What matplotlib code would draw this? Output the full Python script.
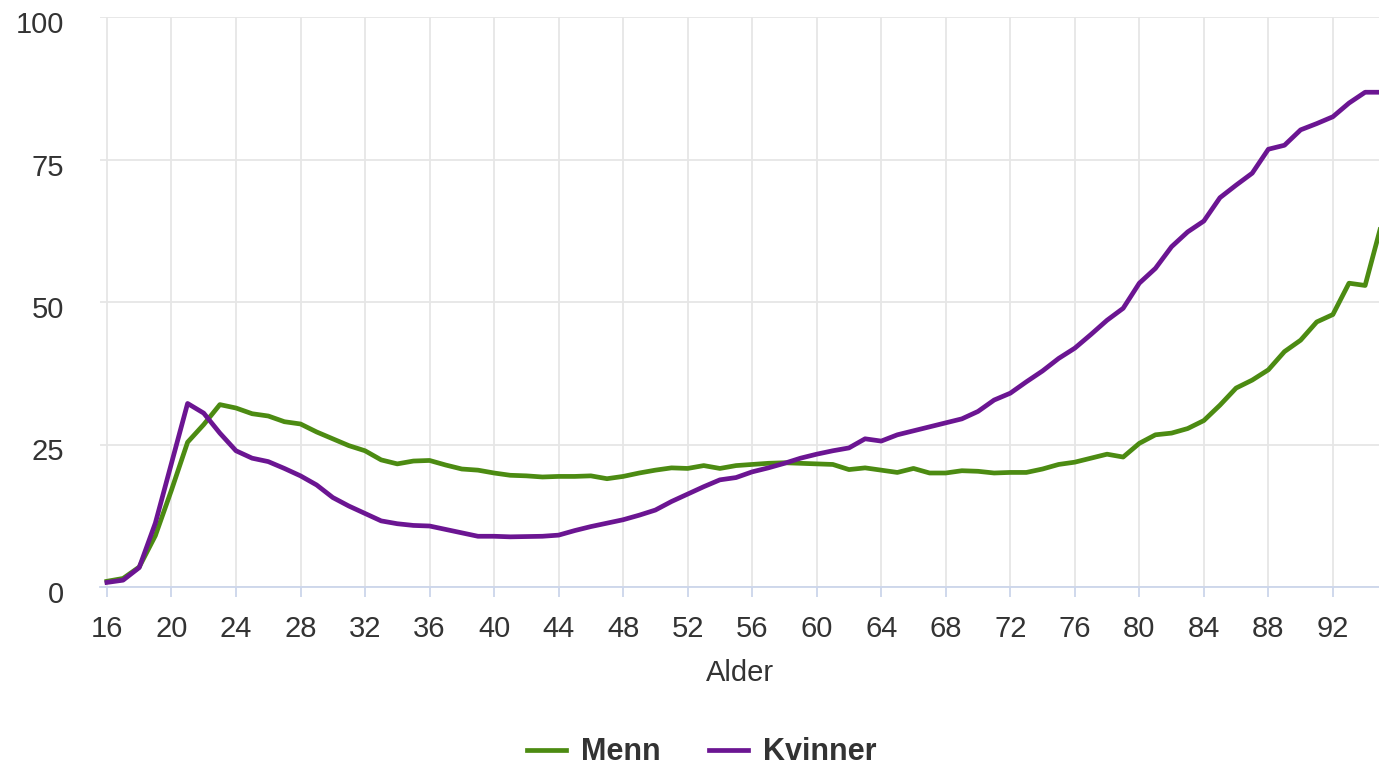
import matplotlib.pyplot as plt
import matplotlib.transforms as mtransforms
import numpy as np

# alder 16..95
alder = list(range(16, 96))

menn = [1.0, 1.5, 3.5, 9.0, 17.0, 25.4, 28.5, 32.0, 31.4, 30.4,
        30.0, 29.0, 28.6, 27.2, 26.0, 24.8, 23.9, 22.3, 21.6, 22.1,
        22.2, 21.4, 20.7, 20.5, 20.0, 19.6, 19.5, 19.3, 19.4, 19.4,
        19.5, 19.0, 19.4, 20.0, 20.5, 20.9, 20.8, 21.3, 20.8, 21.3,
        21.5, 21.7, 21.8, 21.7, 21.6, 21.5, 20.6, 20.9, 20.5, 20.1,
        20.8, 20.0, 20.0, 20.4, 20.3, 20.0, 20.1, 20.1, 20.7, 21.5,
        21.9, 22.6, 23.3, 22.8, 25.2, 26.7, 27.0, 27.8, 29.2, 31.9,
        34.9, 36.3, 38.1, 41.3, 43.3, 46.5, 47.8, 53.3, 52.9, 63.5]

kvinner = [0.8, 1.2, 3.4, 11.2, 21.7, 32.2, 30.5, 27.0, 23.9, 22.6,
           22.0, 20.8, 19.5, 17.9, 15.7, 14.2, 12.9, 11.6, 11.1, 10.8,
           10.7, 10.1, 9.5, 8.9, 8.9, 8.8, 8.85, 8.9, 9.1, 9.9,
           10.6, 11.2, 11.8, 12.6, 13.5, 15.0, 16.3, 17.6, 18.8, 19.2,
           20.2, 20.9, 21.7, 22.6, 23.3, 23.9, 24.4, 26.0, 25.6, 26.7,
           27.4, 28.1, 28.8, 29.5, 30.8, 32.8, 34.0, 36.0, 37.9, 40.1,
           41.9, 44.3, 46.8, 48.9, 53.3, 55.9, 59.7, 62.3, 64.2, 68.3,
           70.5, 72.6, 76.8, 77.5, 80.2, 81.3, 82.5, 84.9, 86.8, 86.8]

x_ticks = list(range(16, 93, 4))
y_ticks = [0, 25, 50, 75, 100]

plt.rcParams['font.family'] = ['Liberation Sans', 'DejaVu Sans']

fig = plt.figure(figsize=(13.79, 7.66), dpi=100)
ax = fig.add_axes([100 / 1379, 1 - 587 / 766, 1 - 100 / 1379, (587 - 17) / 766])

ax.plot(alder, menn, color='#4c8b12', lw=3.4, label='Menn', solid_joinstyle='round', zorder=3)
ax.plot(alder, kvinner, color='#6b1592', lw=3.4, label='Kvinner', solid_joinstyle='round', zorder=3)

ax.set_xlim(15.57, 94.86)
ax.set_ylim(0, 100)
ax.set_xticks(x_ticks)
ax.set_yticks(y_ticks)

ax.grid(True, color='#e6e6e6', lw=1.3)
ax.set_axisbelow(True)
for s in ['top', 'right', 'left']:
    ax.spines[s].set_visible(False)
ax.spines['bottom'].set_color('#ccd6eb')
ax.spines['bottom'].set_linewidth(1.3)
ax.spines['bottom'].set_zorder(1)

ax.tick_params(axis='x', length=7, width=1.3, color='#ccd6eb', labelsize=21,
               labelcolor='#333333', pad=13)
ax.tick_params(axis='y', length=0, labelsize=21, labelcolor='#333333', pad=26)

# y-etiketter litt under gridlinja
skift = mtransforms.ScaledTranslation(0, -5 / 100, fig.dpi_scale_trans)
for lab in ax.get_yticklabels():
    lab.set_transform(lab.get_transform() + skift)

ax.set_xlabel('Alder', fontsize=21, color='#333333', labelpad=12)

fig.legend(loc='center', bbox_to_anchor=(0.509, 0.018), ncol=2, frameon=False,
           prop={'size': 22, 'weight': 'bold'}, labelcolor='#333333',
           handlelength=1.25, handletextpad=0.5, columnspacing=1.6)

fig.savefig('out.png', dpi=100)
